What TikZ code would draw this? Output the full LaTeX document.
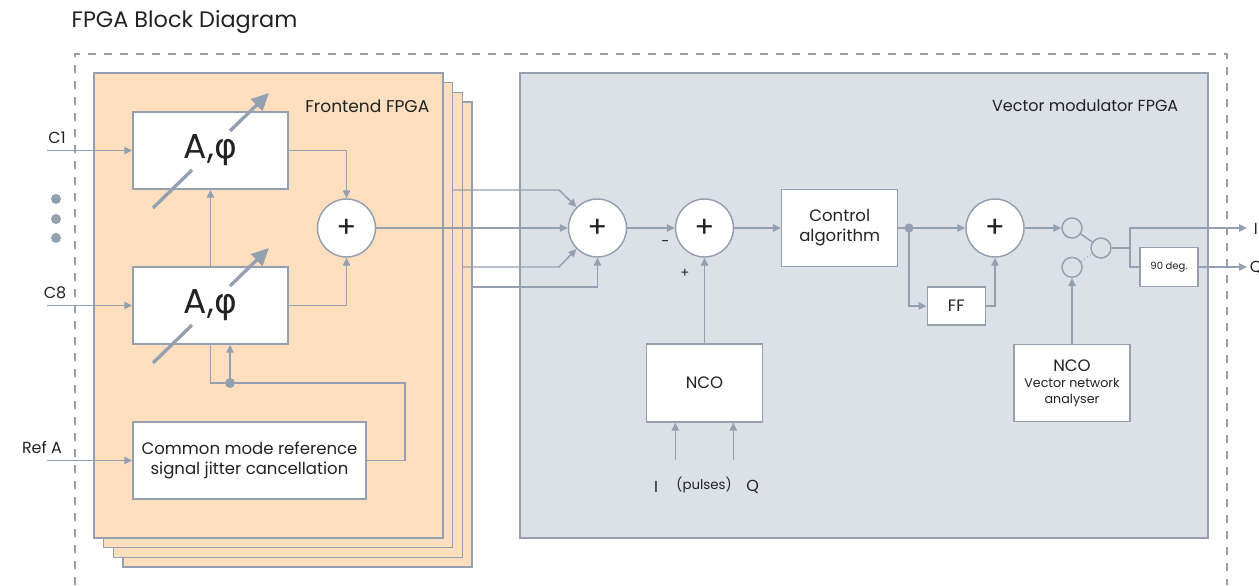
\documentclass[tikz,border=0pt]{standalone}
\usepackage{fontspec}
\setmainfont{Poppins}
\newfontfamily\phifont{DejaVu Sans}
\usetikzlibrary{arrows.meta}

\definecolor{wiregray}{HTML}{94A0B0}
\definecolor{frontpeach}{HTML}{FDDFBF}
\definecolor{vmgray}{HTML}{DCE0E7}
\definecolor{inkblack}{HTML}{222222}

\tikzset{every picture/.style={line width=1.1pt}}
\tikzset{
  wire/.style={draw=wiregray, line width=1.1pt},
  arr/.style={wire, -{Triangle[length=6pt,width=5.5pt]}},
  knob/.style={draw=wiregray, line width=2.5pt},
  blk/.style={draw=wiregray, fill=white, line width=1.1pt, inner sep=0pt, align=center, text=inkblack, font=\fontsize{12.4}{15}\selectfont},
  sumnode/.style={circle, draw=wiregray, fill=white, line width=1.1pt, minimum size=43.5pt, inner sep=0pt, text=inkblack, font=\fontsize{22}{22}\selectfont},
  swnode/.style={circle, draw=wiregray, line width=1.1pt, minimum size=15pt, inner sep=0pt},
  lbl/.style={text=inkblack, inner sep=0pt, font=\fontsize{12}{14}\selectfont},
  layer/.style={draw=wiregray, fill=frontpeach, line width=1.1pt},
  frame/.style={draw=wiregray, line width=1.6pt, dash pattern=on 6pt off 6pt}
}

\begin{document}
\begin{tikzpicture}[x=0.75pt,y=0.75pt,yscale=-1,xscale=1]
\useasboundingbox (0,0) rectangle (1259,585);

% Title
\node[lbl, anchor=west, font=\fontsize{16.8}{18}\selectfont] (title) at (71,22) {FPGA Block Diagram};

% Dashed outline
\draw[frame] (75,585) -- (75,54) -- (1227,54) -- (1227,585);

% Frontend FPGA stack
\foreach \i in {3,2,1,0}
  \draw[layer] ({94+9.7*\i},{73+9.7*\i}) rectangle ++(349,465);
\node[lbl, anchor=east, font=\fontsize{12.8}{14}\selectfont] (feTitle) at (430,106) {Frontend FPGA};

% Vector modulator FPGA
\draw[wire, fill=vmgray] (520,73) rectangle (1208,538);
\node[lbl, anchor=east] (vmTitle) at (1179,106) {Vector modulator FPGA};

% A,phi blocks
\node[blk, minimum width=116.25pt, minimum height=57.75pt, font=\fontsize{26}{26}\selectfont] (ap1) at (210.5,150.5) {A,{\phifont φ}};
\node[blk, minimum width=116.25pt, minimum height=57.75pt, font=\fontsize{26}{26}\selectfont] (ap2) at (210.5,305.5) {A,{\phifont φ}};
\foreach \dy in {0,155} {
  \draw[knob] (153,{208+\dy}) -- (192,{170+\dy});
  \draw[knob, -{Triangle[length=13pt,width=12pt]}] (230,{131+\dy}) -- (269,{93+\dy});
}

% Inputs
\coordinate (c1in) at (47,150.5);
\coordinate (c8in) at (47,305.5);
\coordinate (refin) at (47,460.5);
\node[lbl] (c1lbl) at (57,138) {C1};
\node[lbl] (c8lbl) at (55,293) {C8};
\node[lbl] (reflbl) at (42,447) {Ref A};
\foreach \y in {199,219,238}
  \fill[wiregray] (56,\y) circle (3.75pt);
\draw[arr] (c1in) -- (ap1.west);
\draw[arr] (c8in) -- (ap2.west);

% Jitter cancellation
\node[blk, minimum width=174.75pt, minimum height=57.75pt] (jitter) at (249.5,460.5) {Common mode reference\\signal jitter cancellation};
\draw[arr] (refin) -- (jitter.west);

% Frontend summer
\node[sumnode] (sumFE) at (346.5,228) {+};
\draw[arr] (ap2.north) -- (ap1.south);
\draw[arr] (ap1.east) -| (sumFE.north);
\draw[arr] (ap2.east) -| (sumFE.south);
\coordinate (jturn) at (405,383);
\coordinate (jdot) at (230,383);
\draw[wire] (jitter.east) -| (jturn) -- (jturn -| ap2.south) -- (ap2.south);
\fill[wiregray] (jdot) circle (3.75pt);
\draw[arr] (jdot) -- (jdot |- ap2.south);

% Vector modulator blocks
\node[sumnode] (sumIn) at (597.5,228) {+};
\node[sumnode] (sumErr) at (704.5,228) {+};
\node[blk, minimum width=87pt, minimum height=57.5pt] (ctrl) at (839.7,228) {Control\\algorithm};
\node[sumnode] (sumFF) at (995,228) {+};
\node[blk, minimum width=43.5pt, minimum height=28.7pt] (ff) at (956.3,306) {FF};
\node[blk, minimum width=86.7pt, minimum height=58.3pt] (nco) at (704.5,383) {NCO};
\node[blk, minimum width=86.8pt, minimum height=58pt, font=\fontsize{9.5}{12}\selectfont] (vna) at (1072,383) {{\fontsize{12.4}{14}\selectfont NCO}\\Vector network\\analyser};
\node[swnode] (swIn) at (1072,228) {};
\node[swnode] (swOut) at (1101,248) {};
\node[swnode] (swAlt) at (1072,267.3) {};
\node[blk, minimum width=43.5pt, minimum height=29.25pt, font=\fontsize{7.5}{9}\selectfont] (deg90) at (1169,267) {90 deg.};

% Feeds from the frontend layers
\coordinate (lay1) at (453,190);
\coordinate (lay2) at (463,267);
\coordinate (lay3) at (472,287);
\draw[arr] (sumFE.east) -- (sumIn.west);
\draw[arr] (lay1) -- ++(106,0) -- (sumIn.135);
\draw[arr] (lay2) -- ++(96,0) -- (sumIn.225);
\draw[arr] (lay3) -| (sumIn.south);

% Error summer and NCO
\draw[arr] (sumIn.east) -- (sumErr.west);
\node[lbl, font=\fontsize{11}{12}\selectfont] (minus) at (665.5,244) {-};
\node[lbl, font=\fontsize{10}{12}\selectfont] (plus) at (685,273) {+};
\draw[arr] (nco.north) -- (sumErr.south);
\coordinate (pulseI) at (675.3,460);
\coordinate (pulseQ) at (733.3,460);
\draw[arr] (pulseI) -- (pulseI |- nco.south);
\draw[arr] (pulseQ) -- (pulseQ |- nco.south);
\node[lbl] (iLbl) at (656,487) {I};
\node[lbl, font=\fontsize{10}{12}\selectfont] (pulses) at (704,485) {(pulses)};
\node[lbl] (qLbl) at (752.7,487) {Q};

% Control and feed forward
\draw[arr] (sumErr.east) -- (ctrl.west);
\coordinate (cdot) at (909,228);
\draw[wire] (ctrl.east) -- (cdot);
\fill[wiregray] (cdot) circle (3.4pt);
\draw[arr] (cdot) -- (sumFF.west);
\draw[arr] (cdot) |- (ff.west);
\draw[arr] (ff.east) -| (sumFF.south);

% Switch and outputs
\draw[arr] (sumFF.east) -- (swIn.west);
\draw[wire] (swIn) -- (swOut);
\draw[wire, line width=0.8pt, dotted] (swAlt) -- (swOut);
\draw[arr] (vna.north) -- (swAlt.south);
\coordinate (split) at (1130,248);
\coordinate (outI) at (1247,228);
\coordinate (outQ) at (1247,267);
\draw[wire] (swOut.east) -- (split);
\draw[arr] (split) |- (outI);
\draw[wire] (split) |- (deg90.west);
\draw[arr] (deg90.east) -- (outQ);
\node[lbl, anchor=west] (iOut) at (1253,229) {I};
\node[lbl, anchor=west] (qOut) at (1249,268) {Q};

\end{tikzpicture}
\end{document}
